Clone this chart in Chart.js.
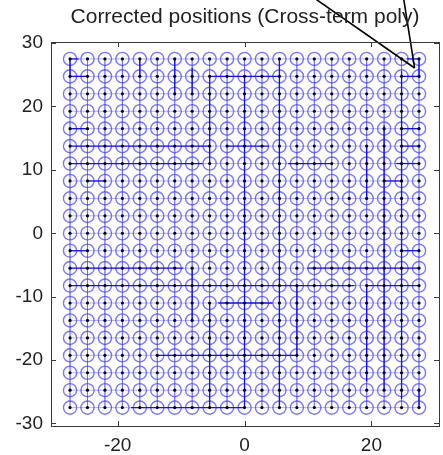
<!DOCTYPE html>
<html>
<head>
<meta charset="utf-8">
<script src="https://cdn.jsdelivr.net/npm/chart.js@4"></script>
<style>
  html, body { margin: 0; padding: 0; background: #fff; }
  #wrap { width: 443px; height: 455px; position: relative; }
</style>
</head>
<body>
<div id="wrap"><canvas id="c" width="443" height="455"></canvas></div>
<script>
// Grid of corrected positions (21 x 21)
const gridX = [-27.5, -24.75, -22, -19.25, -16.5, -13.75, -11, -8.25, -5.5, -2.75, 0,
               2.75, 5.5, 8.25, 11, 13.75, 16.5, 19.25, 22, 24.75, 27.5];
const gridY = [27.5, 24.75, 22, 19.25, 16.5, 13.75, 11, 8.25, 5.5, 2.75, 0,
               -2.75, -5.5, -8.25, -11, -13.75, -16.5, -19.25, -22, -24.75, -27.5];

// Traversal segments along rows: [row, fromCol, toCol] (grid index units)
const rowSegments = [
  [0, 0, 0.5], [1, 0, 1], [1, 8, 12], [4, 0, 1], [5, 0, 8], [5, 9, 11.4],
  [6, 0, 7.6], [7, 1, 2], [0, 19.3, 20], [1, 19, 20], [4, 19, 20], [5, 19, 20],
  [6, 12.5, 15], [6, 18.7, 20], [7, 18, 19], [11, 0, 1], [11, 19, 20],
  [12, 0, 6.5], [12, 13.6, 20], [13, 0, 16.3], [13, 17, 20], [14, 8.5, 11.6],
  [17, 5, 13], [20, 3.5, 10]
];
// Traversal segments along columns: [col, fromRow, toRow]
const colSegments = [
  [0, 0, 1], [4, 0, 1], [6, 0, 2], [7, 0.5, 2], [8, 1, 6], [10, 1, 20],
  [12, 0, 20], [19, 0.7, 19.5], [18, 3.8, 19], [17, 5, 8], [17, 13, 18.5],
  [20, 0, 1], [20, 19, 20], [7, 12, 15], [8, 14, 20], [13, 13, 17]
];

// Annotation pointer lines: [x, y] pairs
const pointerA = [[11.34, 36.86], [26.8, 26.07]];
const pointerB = [[25.1, 36.86], [26.8, 26.07]];

const xTicks = [-20, 0, 20];
const yTicks = [-30, -20, -10, 0, 10, 20, 30];
const titleText = 'Corrected positions (Cross-term poly)';

function at(arr, i) {
  const k = Math.min(Math.floor(i), arr.length - 2);
  return arr[k] + (i - k) * (arr[k + 1] - arr[k]);
}

const gridPoints = [];
gridY.forEach(y => gridX.forEach(x => gridPoints.push({ x, y })));

const datasets = [];
const lineBase = { type: 'scatter', showLine: true, pointRadius: 0, fill: false };

// Centre dots
datasets.push({ type: 'scatter', data: gridPoints, pointRadius: 1.6,
  pointBackgroundColor: '#00001a', pointBorderWidth: 0, order: 0 });
// Pointer lines
[pointerA, pointerB].forEach(p => datasets.push(Object.assign({}, lineBase, {
  data: p.map(([x, y]) => ({ x, y })), borderColor: '#000', borderWidth: 1.6,
  clip: false, order: 1 })));
// Traversal segments
rowSegments.forEach(([r, a, b]) => datasets.push(Object.assign({}, lineBase, {
  data: [{ x: at(gridX, a), y: gridY[r] }, { x: at(gridX, b), y: gridY[r] }],
  borderColor: 'rgba(10,10,255,0.95)', borderWidth: 1.3, order: 2 })));
colSegments.forEach(([c, a, b]) => datasets.push(Object.assign({}, lineBase, {
  data: [{ x: gridX[c], y: at(gridY, a) }, { x: gridX[c], y: at(gridY, b) }],
  borderColor: 'rgba(10,10,255,0.95)', borderWidth: 1.3, order: 2 })));
// Circles
datasets.push({ type: 'scatter', data: gridPoints, pointRadius: 6.6,
  pointBackgroundColor: 'rgba(0,0,0,0)', pointBorderColor: 'rgba(55,55,255,0.68)',
  pointBorderWidth: 1.4, order: 3 });
// Light mesh through every row and column
gridY.forEach(y => datasets.push(Object.assign({}, lineBase, {
  data: [{ x: gridX[0], y }, { x: gridX[gridX.length - 1], y }],
  borderColor: 'rgba(80,80,255,0.45)', borderWidth: 1, order: 4 })));
gridX.forEach(x => datasets.push(Object.assign({}, lineBase, {
  data: [{ x, y: gridY[0] }, { x, y: gridY[gridY.length - 1] }],
  borderColor: 'rgba(80,80,255,0.45)', borderWidth: 1, order: 4 })));

const boxPlugin = {
  id: 'box',
  afterDraw(chart) {
    const { ctx, chartArea: a, scales } = chart;
    ctx.save();
    ctx.strokeStyle = '#3a3a3a';
    ctx.lineWidth = 1;
    ctx.strokeRect(Math.round(a.left) + 0.5, Math.round(a.top) + 0.5,
      Math.round(a.right - a.left), Math.round(a.bottom - a.top));
    const tl = 5;
    ctx.beginPath();
    xTicks.forEach(v => {
      const px = Math.round(scales.x.getPixelForValue(v)) + 0.5;
      ctx.moveTo(px, a.bottom); ctx.lineTo(px, a.bottom - tl);
      ctx.moveTo(px, a.top); ctx.lineTo(px, a.top + tl);
    });
    yTicks.forEach(v => {
      const py = Math.round(scales.y.getPixelForValue(v)) + 0.5;
      ctx.moveTo(a.left, py); ctx.lineTo(a.left + tl, py);
      ctx.moveTo(a.right, py); ctx.lineTo(a.right - tl, py);
    });
    ctx.stroke();
    ctx.fillStyle = '#222';
    ctx.font = '21px "Liberation Sans", Arial, sans-serif';
    ctx.textAlign = 'center';
    ctx.textBaseline = 'middle';
    ctx.fillText(titleText, (a.left + a.right) / 2, 17);
    ctx.restore();
  }
};

new Chart(document.getElementById('c'), {
  data: { datasets },
  options: {
    responsive: false,
    animation: false,
    events: [],
    layout: { autoPadding: false, padding: { top: 42, right: 4, left: 0, bottom: 0 } },
    plugins: { legend: { display: false }, tooltip: { enabled: false }, title: { display: false } },
    scales: {
      x: {
        type: 'linear', min: -30.5, max: 30.65,
        afterBuildTicks: s => { s.ticks = xTicks.map(v => ({ value: v })); },
        afterFit: s => { s.height = 29; },
        grid: { display: false, drawTicks: false },
        border: { display: false },
        ticks: { padding: 8, color: '#222', maxRotation: 0,
          font: { family: '"Liberation Sans", Arial, sans-serif', size: 19 } }
      },
      y: {
        type: 'linear', min: -30.4, max: 30.17,
        afterBuildTicks: s => { s.ticks = yTicks.map(v => ({ value: v })); },
        afterFit: s => { s.width = 51; },
        grid: { display: false, drawTicks: false },
        border: { display: false },
        ticks: { padding: 8, color: '#222',
          font: { family: '"Liberation Sans", Arial, sans-serif', size: 19 } }
      }
    }
  },
  plugins: [boxPlugin]
});
</script>
</body>
</html>
